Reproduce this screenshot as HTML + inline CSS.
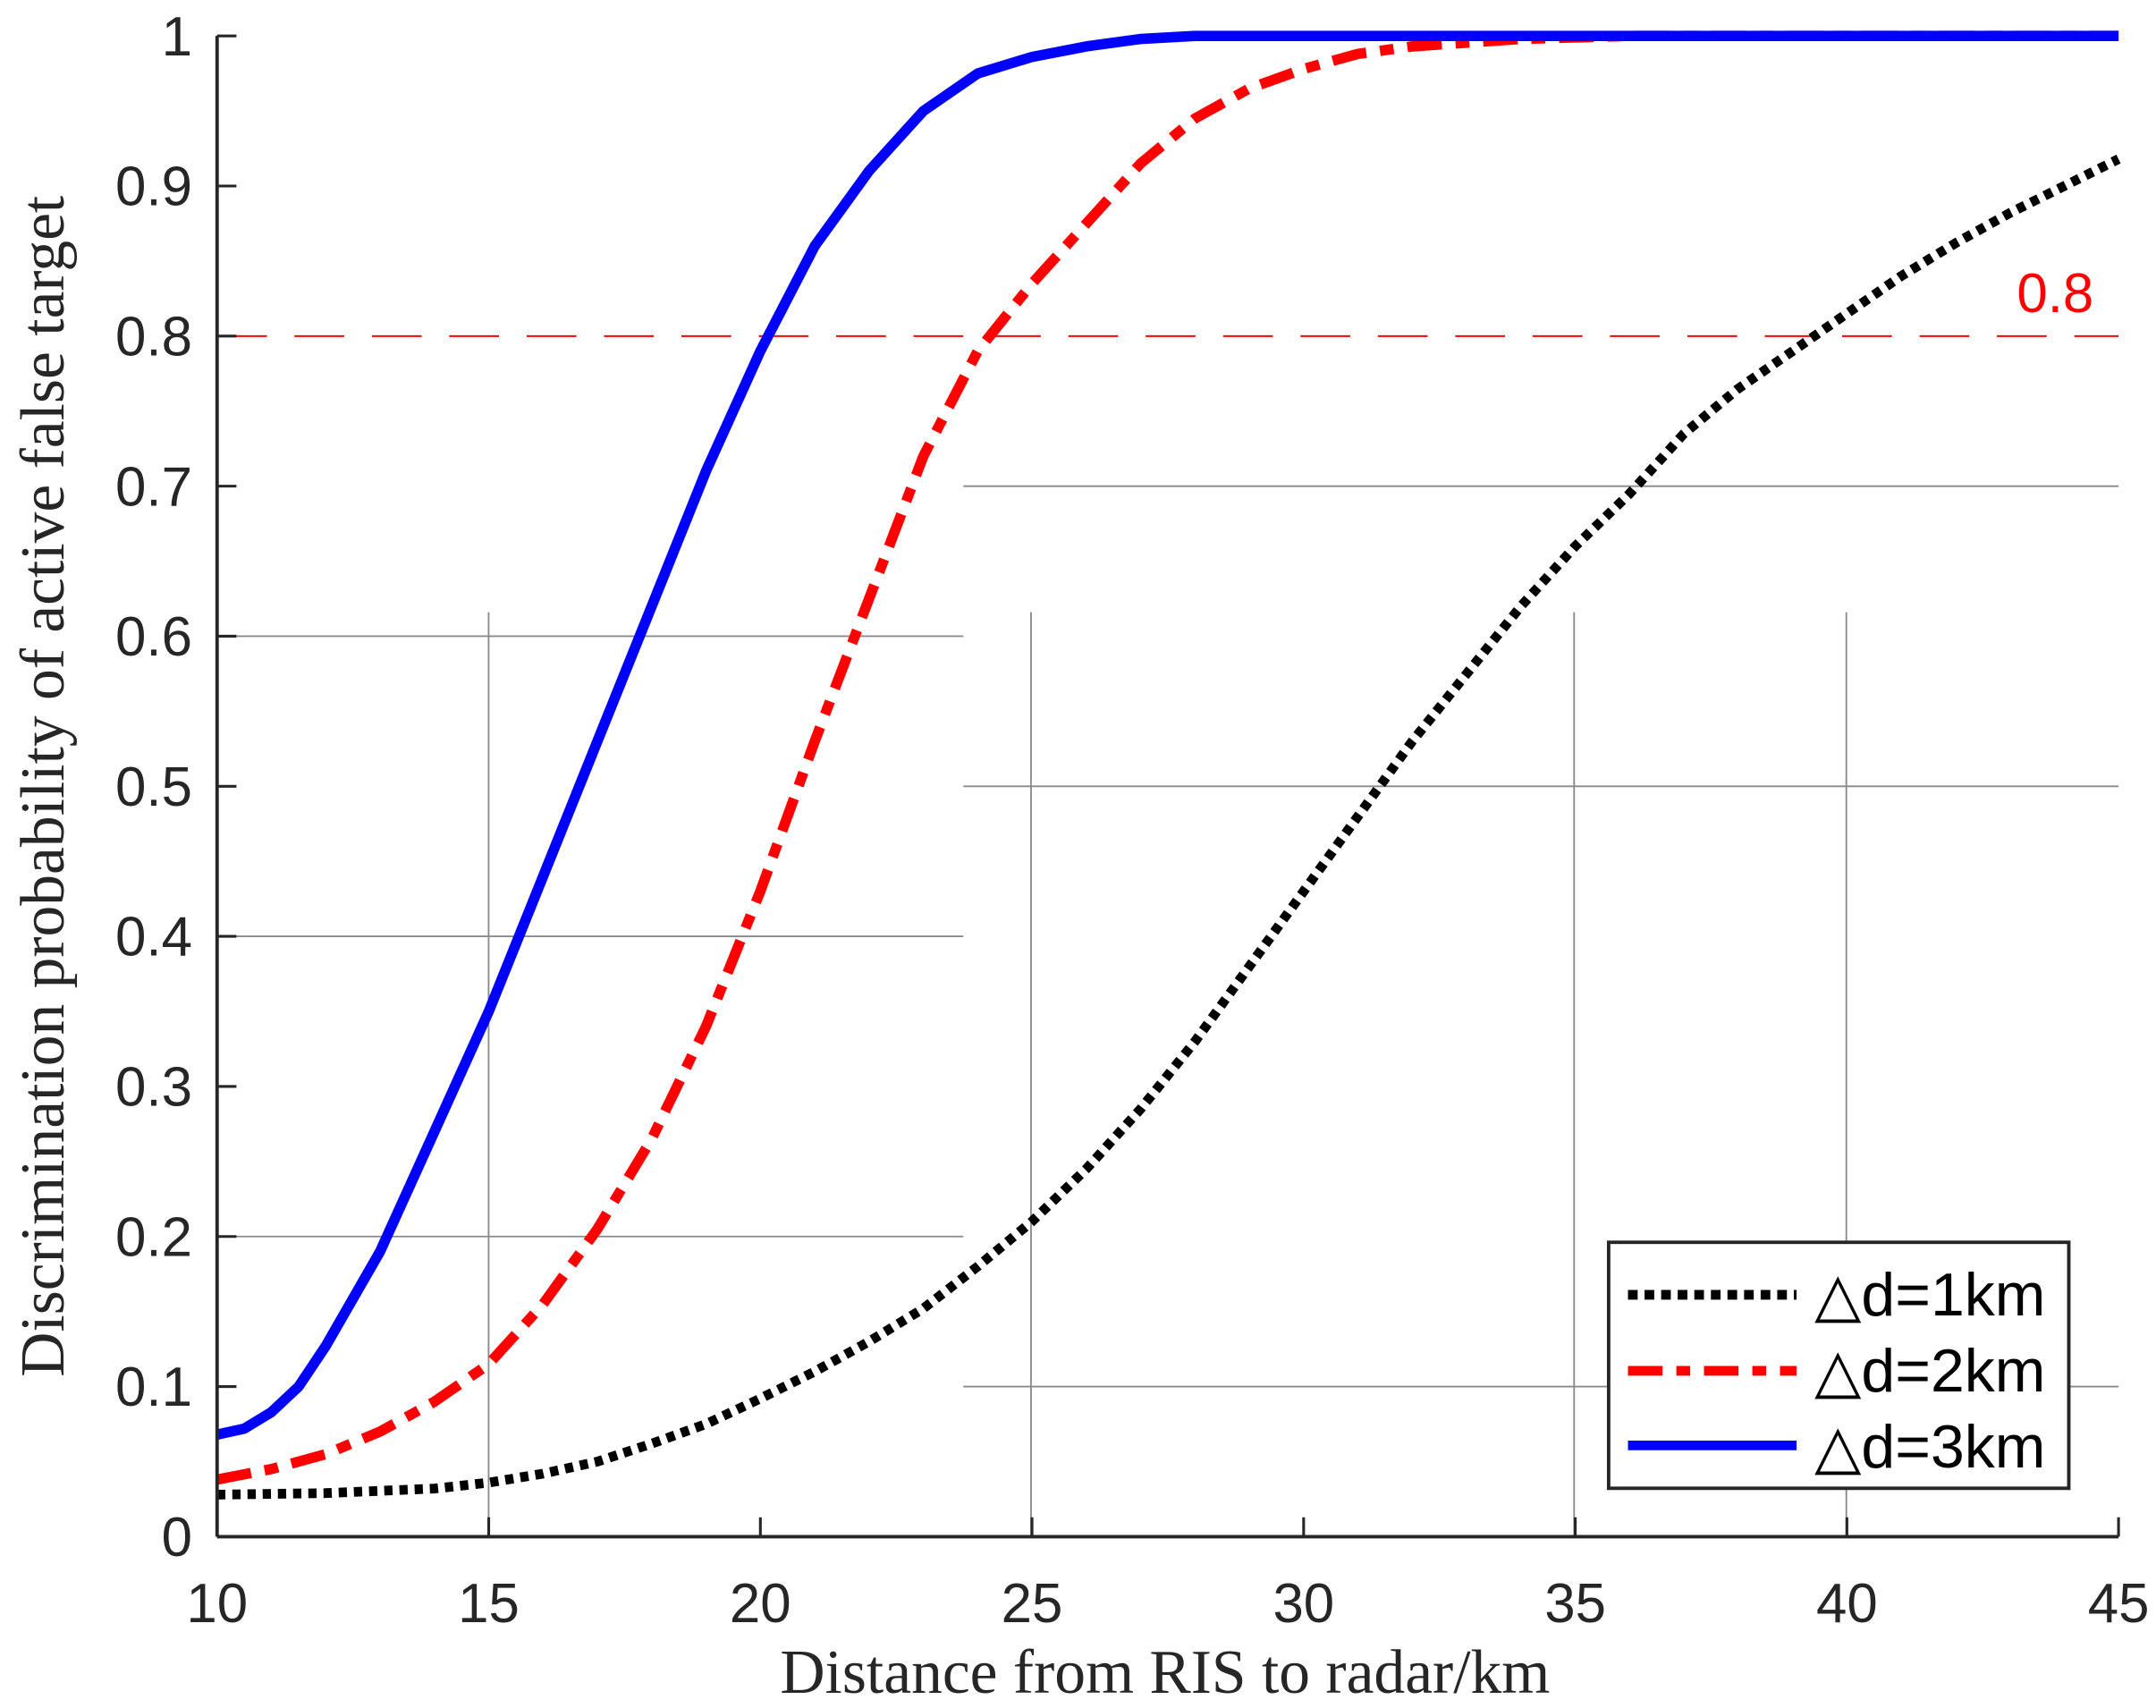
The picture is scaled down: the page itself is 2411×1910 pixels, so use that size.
<!DOCTYPE html>
<html><head><meta charset="utf-8"><style>
html,body{margin:0;padding:0;background:#fff;}
svg{display:block;}
</style></head><body>
<svg id="s" width="2411" height="1910" viewBox="0 0 1560 1236" xmlns="http://www.w3.org/2000/svg">
<rect width="1560" height="1236" fill="#fff"/>
<g stroke="#8a8a8a" stroke-width="1.2" fill="none">
<line x1="157" y1="460.4" x2="697" y2="460.4"/>
<line x1="157" y1="677.6" x2="697" y2="677.6"/>
<line x1="157" y1="894.8" x2="697" y2="894.8"/>
<line x1="697" y1="351.8" x2="1533" y2="351.8"/>
<line x1="697" y1="569" x2="1533" y2="569"/>
<line x1="697" y1="1003.4" x2="1533" y2="1003.4"/>
<line x1="353.5" y1="443" x2="353.5" y2="1112"/>
<line x1="746" y1="443" x2="746" y2="1112"/>
<line x1="1139" y1="443" x2="1139" y2="1112"/>
<line x1="1336" y1="443" x2="1336" y2="1112"/>
</g>
<line x1="157" y1="243.2" x2="1533" y2="243.2" stroke="#f00" stroke-width="1.3" stroke-dasharray="36,20"/>
<text x="1515" y="226" fill="#f00" font-family="Liberation Sans, sans-serif" font-size="40" text-anchor="end">0.8</text>
<g id="curves" fill="none" stroke-linejoin="round"></g>
<g stroke="#262626" stroke-width="2.5" fill="none">
<line x1="157" y1="26" x2="157" y2="1112"/>
<line x1="157" y1="1112" x2="1533" y2="1112"/>
</g>
<g id="ticks" stroke="#262626" stroke-width="2"></g>
<g id="lab" font-family="Liberation Sans, sans-serif" font-size="40" fill="#262626"></g>
<text x="843" y="1225" font-family="Liberation Serif, serif" font-size="45" fill="#262626" text-anchor="middle">Distance from RIS to radar/km</text>
<text transform="translate(46,569) rotate(-90)" font-family="Liberation Serif, serif" font-size="45" fill="#262626" text-anchor="middle">Discrimination probability of active false target</text>
<rect x="1164" y="899" width="333" height="178" fill="#fff" stroke="#262626" stroke-width="2.5"/>
<line x1="1178" y1="937" x2="1300" y2="937" stroke="#000" stroke-width="7" stroke-dasharray="7,5"/>
<line x1="1178" y1="992" x2="1300" y2="992" stroke="#f00" stroke-width="7" stroke-dasharray="25,10,10,10"/>
<line x1="1178" y1="1046" x2="1300" y2="1046" stroke="#00f" stroke-width="7"/>
<g font-family="Liberation Sans, DejaVu Sans, sans-serif" font-size="44" fill="#000">
<text x="1313" y="952">△d=1km</text>
<text x="1313" y="1007">△d=2km</text>
<text x="1313" y="1062">△d=3km</text>
</g>
<script>
(function(){
var X=function(v){return 157+(v-10)*1376/35;};
var Y=function(p){return 1112-p*1086;};
var blue=[[10,.068],[10.5,.072],[11,.083],[11.5,.1],[12,.127],[13,.19],[14,.27],[15,.35],[16,.44],[17,.53],[18,.62],[19,.71],[20,.79],[21,.86],[22,.91],[23,.95],[24,.975],[25,.986],[26,.993],[27,.998],[28,1],[45,1]];
var red=[[10,.038],[11,.045],[12,.055],[13,.07],[14,.09],[15,.115],[16,.155],[17,.205],[18,.265],[19,.34],[20,.43],[21,.53],[22,.625],[23,.72],[24,.79],[25,.835],[26,.875],[27,.915],[28,.945],[29,.965],[30,.978],[31,.988],[32,.993],[34,.998],[36,1],[45,1]];
var blk=[[10,.028],[12,.029],[14,.032],[15,.036],[16,.042],[17,.05],[18,.062],[19,.075],[20,.092],[21,.11],[22,.13],[23,.152],[24,.18],[25,.21],[26,.245],[27,.285],[28,.33],[29,.38],[30,.43],[31,.48],[32,.53],[33,.575],[34,.62],[35,.66],[36,.695],[37,.735],[38,.765],[39,.79],[40,.815],[41,.84],[42,.862],[43,.882],[44,.9],[45,.918]];
function path(a){return a.map(function(p,i){return (i?'L':'M')+X(p[0]).toFixed(1)+','+Y(p[1]).toFixed(1);}).join('');}
var ns='http://www.w3.org/2000/svg',g=document.getElementById('curves');
function add(a,c,w,d){var p=document.createElementNS(ns,'path');p.setAttribute('d',path(a));p.setAttribute('stroke',c);p.setAttribute('stroke-width',w);if(d)p.setAttribute('stroke-dasharray',d);g.appendChild(p);}
add(blk,'#000',7,'6,5');
add(red,'#f00',7.5,'25,10,10,10');
add(blue,'#00f',7.5);
var t=document.getElementById('ticks'),l=document.getElementById('lab');
for(var i=0;i<=10;i++){var y=Y(i/10);var ln=document.createElementNS(ns,'line');ln.setAttribute('x1',157);ln.setAttribute('x2',171);ln.setAttribute('y1',y);ln.setAttribute('y2',y);t.appendChild(ln);
var tx=document.createElementNS(ns,'text');tx.setAttribute('x',139);tx.setAttribute('y',y+14);tx.setAttribute('text-anchor','end');tx.textContent=(i==0?'0':i==10?'1':(i/10).toFixed(1));l.appendChild(tx);}
for(var v=10;v<=45;v+=5){var x=X(v);var ln2=document.createElementNS(ns,'line');ln2.setAttribute('x1',x);ln2.setAttribute('x2',x);ln2.setAttribute('y1',1112);ln2.setAttribute('y2',1098);t.appendChild(ln2);
var tx2=document.createElementNS(ns,'text');tx2.setAttribute('x',x);tx2.setAttribute('y',1174);tx2.setAttribute('text-anchor','middle');tx2.textContent=v;l.appendChild(tx2);}
})();
</script>
</svg>
</body></html>
